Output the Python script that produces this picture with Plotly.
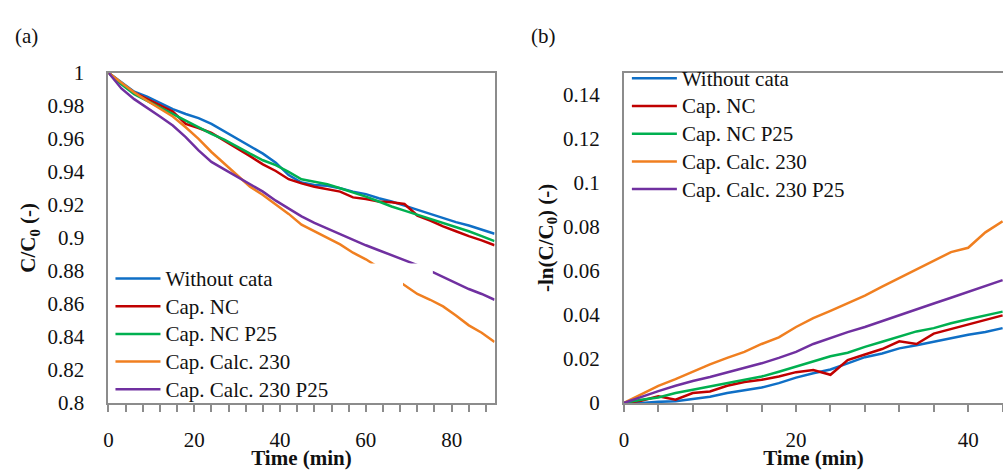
import plotly.graph_objects as go

# ---------------- data ----------------
names = ["Without cata", "Cap. NC", "Cap. NC P25", "Cap. Calc. 230", "Cap. Calc. 230 P25"]
colors = ["#0F6FC6", "#C00000", "#00B050", "#F07F20", "#7030A0"]

# Panel (a): C/C0 vs time
time_a = [0, 3, 6, 9, 12, 15, 18, 21, 24, 27, 30, 33, 36, 39, 42, 45,
          48, 51, 54, 57, 60, 63, 66, 69, 72, 75, 78, 81, 84, 87, 90]
a_without = [1.000, 0.9945, 0.9885, 0.9855, 0.9815, 0.978, 0.975, 0.9725, 0.969, 0.9645, 0.960,
             0.9555, 0.951, 0.9455, 0.938, 0.9335, 0.932, 0.9315, 0.930, 0.928, 0.9265, 0.924,
             0.922, 0.9195, 0.917, 0.9145, 0.912, 0.9095, 0.9075, 0.905, 0.9025]
a_nc = [1.000, 0.9935, 0.988, 0.984, 0.980, 0.9765, 0.969, 0.9665, 0.9635, 0.959, 0.954,
        0.9495, 0.9445, 0.9405, 0.9355, 0.933, 0.931, 0.9295, 0.928, 0.9245, 0.9235, 0.922,
        0.9215, 0.9205, 0.9135, 0.9105, 0.907, 0.904, 0.901, 0.8985, 0.8955]
a_nc_p25 = [1.000, 0.993, 0.987, 0.983, 0.979, 0.975, 0.971, 0.967, 0.963, 0.9595, 0.955,
            0.951, 0.947, 0.944, 0.940, 0.9355, 0.934, 0.9325, 0.930, 0.9275, 0.925, 0.922,
            0.919, 0.9165, 0.914, 0.9115, 0.909, 0.9065, 0.904, 0.901, 0.898]
a_calc = [1.000, 0.994, 0.988, 0.983, 0.978, 0.9735, 0.967, 0.960, 0.952, 0.945, 0.938,
          0.931, 0.926, 0.9205, 0.9145, 0.908, 0.904, 0.8995, 0.896, 0.891, 0.887, 0.882,
          0.8765, 0.871, 0.866, 0.8625, 0.8585, 0.853, 0.847, 0.8425, 0.837]
a_calc_p25 = [1.000, 0.9905, 0.984, 0.979, 0.9735, 0.968, 0.961, 0.953, 0.946, 0.9415, 0.937,
              0.933, 0.928, 0.9225, 0.9175, 0.913, 0.909, 0.9055, 0.902, 0.8985, 0.8955, 0.8925,
              0.8895, 0.8865, 0.8835, 0.880, 0.8765, 0.873, 0.869, 0.866, 0.8625]

# Panel (b): -ln(C/C0) vs time
time_b = [0, 2, 4, 6, 8, 10, 12, 14, 16, 18, 20, 22, 24, 26, 28, 30, 32, 34, 36, 38, 40, 42, 44]
b_without = [0, 0.0000, 0.0005, 0.0008, 0.0018, 0.0028, 0.0045, 0.0058, 0.0070, 0.0090, 0.0115,
             0.0135, 0.0152, 0.0180, 0.0208, 0.0225, 0.0248, 0.0262, 0.0278, 0.0292, 0.0310,
             0.0322, 0.0340]
b_nc = [0, 0.0010, 0.0030, 0.0015, 0.0045, 0.0052, 0.0078, 0.0095, 0.0105, 0.0120, 0.0140,
        0.0150, 0.0128, 0.0195, 0.0220, 0.0245, 0.0280, 0.0268, 0.0315, 0.0335, 0.0355,
        0.0375, 0.0398]
b_nc_p25 = [0, 0.0015, 0.0025, 0.0045, 0.0060, 0.0075, 0.0090, 0.0105, 0.0120, 0.0142, 0.0165,
            0.0190, 0.0212, 0.0228, 0.0255, 0.0278, 0.0302, 0.0325, 0.0340, 0.0362, 0.0380,
            0.0398, 0.0415]
b_calc = [0, 0.0038, 0.0078, 0.0108, 0.0142, 0.0175, 0.0205, 0.0232, 0.0268, 0.0298, 0.0345,
          0.0385, 0.0418, 0.0452, 0.0488, 0.0528, 0.0568, 0.0605, 0.0645, 0.0685, 0.0705,
          0.0775, 0.0825]
b_calc_p25 = [0, 0.0028, 0.0054, 0.0078, 0.0100, 0.0118, 0.0138, 0.0158, 0.0180, 0.0205, 0.0232,
              0.0268, 0.0295, 0.0322, 0.0345, 0.0372, 0.0400, 0.0428, 0.0452, 0.0478, 0.0505,
              0.0530, 0.0558]

series_a = [a_without, a_nc, a_nc_p25, a_calc, a_calc_p25]
series_b = [b_without, b_nc, b_nc_p25, b_calc, b_calc_p25]

# ---------------- figure ----------------
FONT = "Liberation Serif, Times New Roman, serif"
AXC = "#8C8C8C"
TXT = "#111111"
W, H = 1003, 470


def big(label):
    return '<span style="font-size:21px">' + label + "</span>"


fig = go.Figure()
for i in range(5):
    fig.add_trace(go.Scatter(x=time_a, y=series_a[i], mode="lines", name=big(names[i]),
                             line=dict(color=colors[i], width=2.5),
                             xaxis="x", yaxis="y", legend="legend"))
for i in range(5):
    fig.add_trace(go.Scatter(x=time_b, y=series_b[i], mode="lines", name=big(names[i]),
                             line=dict(color=colors[i], width=2.5),
                             xaxis="x2", yaxis="y2", legend="legend2"))

ydom = [1 - 412 / H, 1 - 64 / H]
tickfont = dict(family=FONT, size=21, color=TXT)
titlefont = dict(family=FONT, size=21, color=TXT, weight="bold")

common_x = dict(showline=True, linecolor=AXC, linewidth=2, ticks="outside", ticklen=7,
                tickcolor=AXC, tickwidth=1.5, dtick=20, tick0=0, showgrid=False, zeroline=False,
                tickfont=tickfont, ticklabelstandoff=10,
                minor=dict(ticks="outside", dtick=4, ticklen=7, tickcolor=AXC, tickwidth=1.5,
                           showgrid=False))
common_y = dict(showline=True, linecolor=AXC, linewidth=2, ticks="", showgrid=False,
                zeroline=False, tickfont=tickfont, ticklabelstandoff=18)

fig.update_layout(
    width=W, height=H,
    margin=dict(l=0, r=0, t=0, b=0),
    paper_bgcolor="white", plot_bgcolor="white",
    font=dict(family=FONT, size=21, color=TXT),
    xaxis=dict(domain=[104 / W, 492 / W], range=[0, 90], mirror=True, anchor="y",
               title=dict(text="Time (min)", font=titlefont, standoff=3), **common_x),
    yaxis=dict(domain=ydom, range=[0.8, 1.0], dtick=0.02, mirror=True, anchor="x",
               title=dict(text="C/C<sub>0</sub> (-)", font=titlefont, standoff=6), **common_y),
    xaxis2=dict(domain=[622 / W, 1.0], range=[0, (W - 622) / 8.65], mirror=True, anchor="y2",
                title=dict(text="Time (min)", font=titlefont, standoff=3), **common_x),
    yaxis2=dict(domain=ydom, range=[0, 0.15], dtick=0.02, mirror=False, anchor="x2",
                title=dict(text="-ln(C/C<sub>0</sub>) (-)", font=titlefont, standoff=4),
                **common_y),
    legend=dict(x=106 / W, y=1 - 261 / H, xanchor="left", yanchor="top",
                bgcolor="rgba(0,0,0,0)", borderwidth=0, itemwidth=45,
                font=dict(family=FONT, size=19, color=TXT), tracegroupgap=0),
    legend2=dict(x=625 / W, y=1 - 50 / H, xanchor="left", yanchor="top",
                 bgcolor="rgba(0,0,0,0)", borderwidth=0, itemwidth=45,
                 font=dict(family=FONT, size=19, color=TXT), tracegroupgap=0),
    shapes=[
        # white legend box of the original that hides part of the curves
        dict(type="rect", xref="paper", yref="paper", layer="above",
             x0=106 / W, x1=400 / W, y0=1 - 410 / H, y1=1 - 265 / H,
             fillcolor="white", line=dict(width=0)),
        dict(type="rect", xref="paper", yref="paper", layer="above",
             x0=400 / W, x1=430 / W, y0=1 - 276 / H, y1=1 - 265 / H,
             fillcolor="white", line=dict(width=0)),
    ],
    annotations=[
        dict(text="(a)", x=8 / W, y=1 - 25 / H, xref="paper", yref="paper",
             xanchor="left", yanchor="middle", showarrow=False,
             font=dict(family=FONT, size=21, color=TXT)),
        dict(text="(b)", x=527 / W, y=1 - 25 / H, xref="paper", yref="paper",
             xanchor="left", yanchor="middle", showarrow=False,
             font=dict(family=FONT, size=21, color=TXT)),
    ],
)

fig.write_html("out.html")
